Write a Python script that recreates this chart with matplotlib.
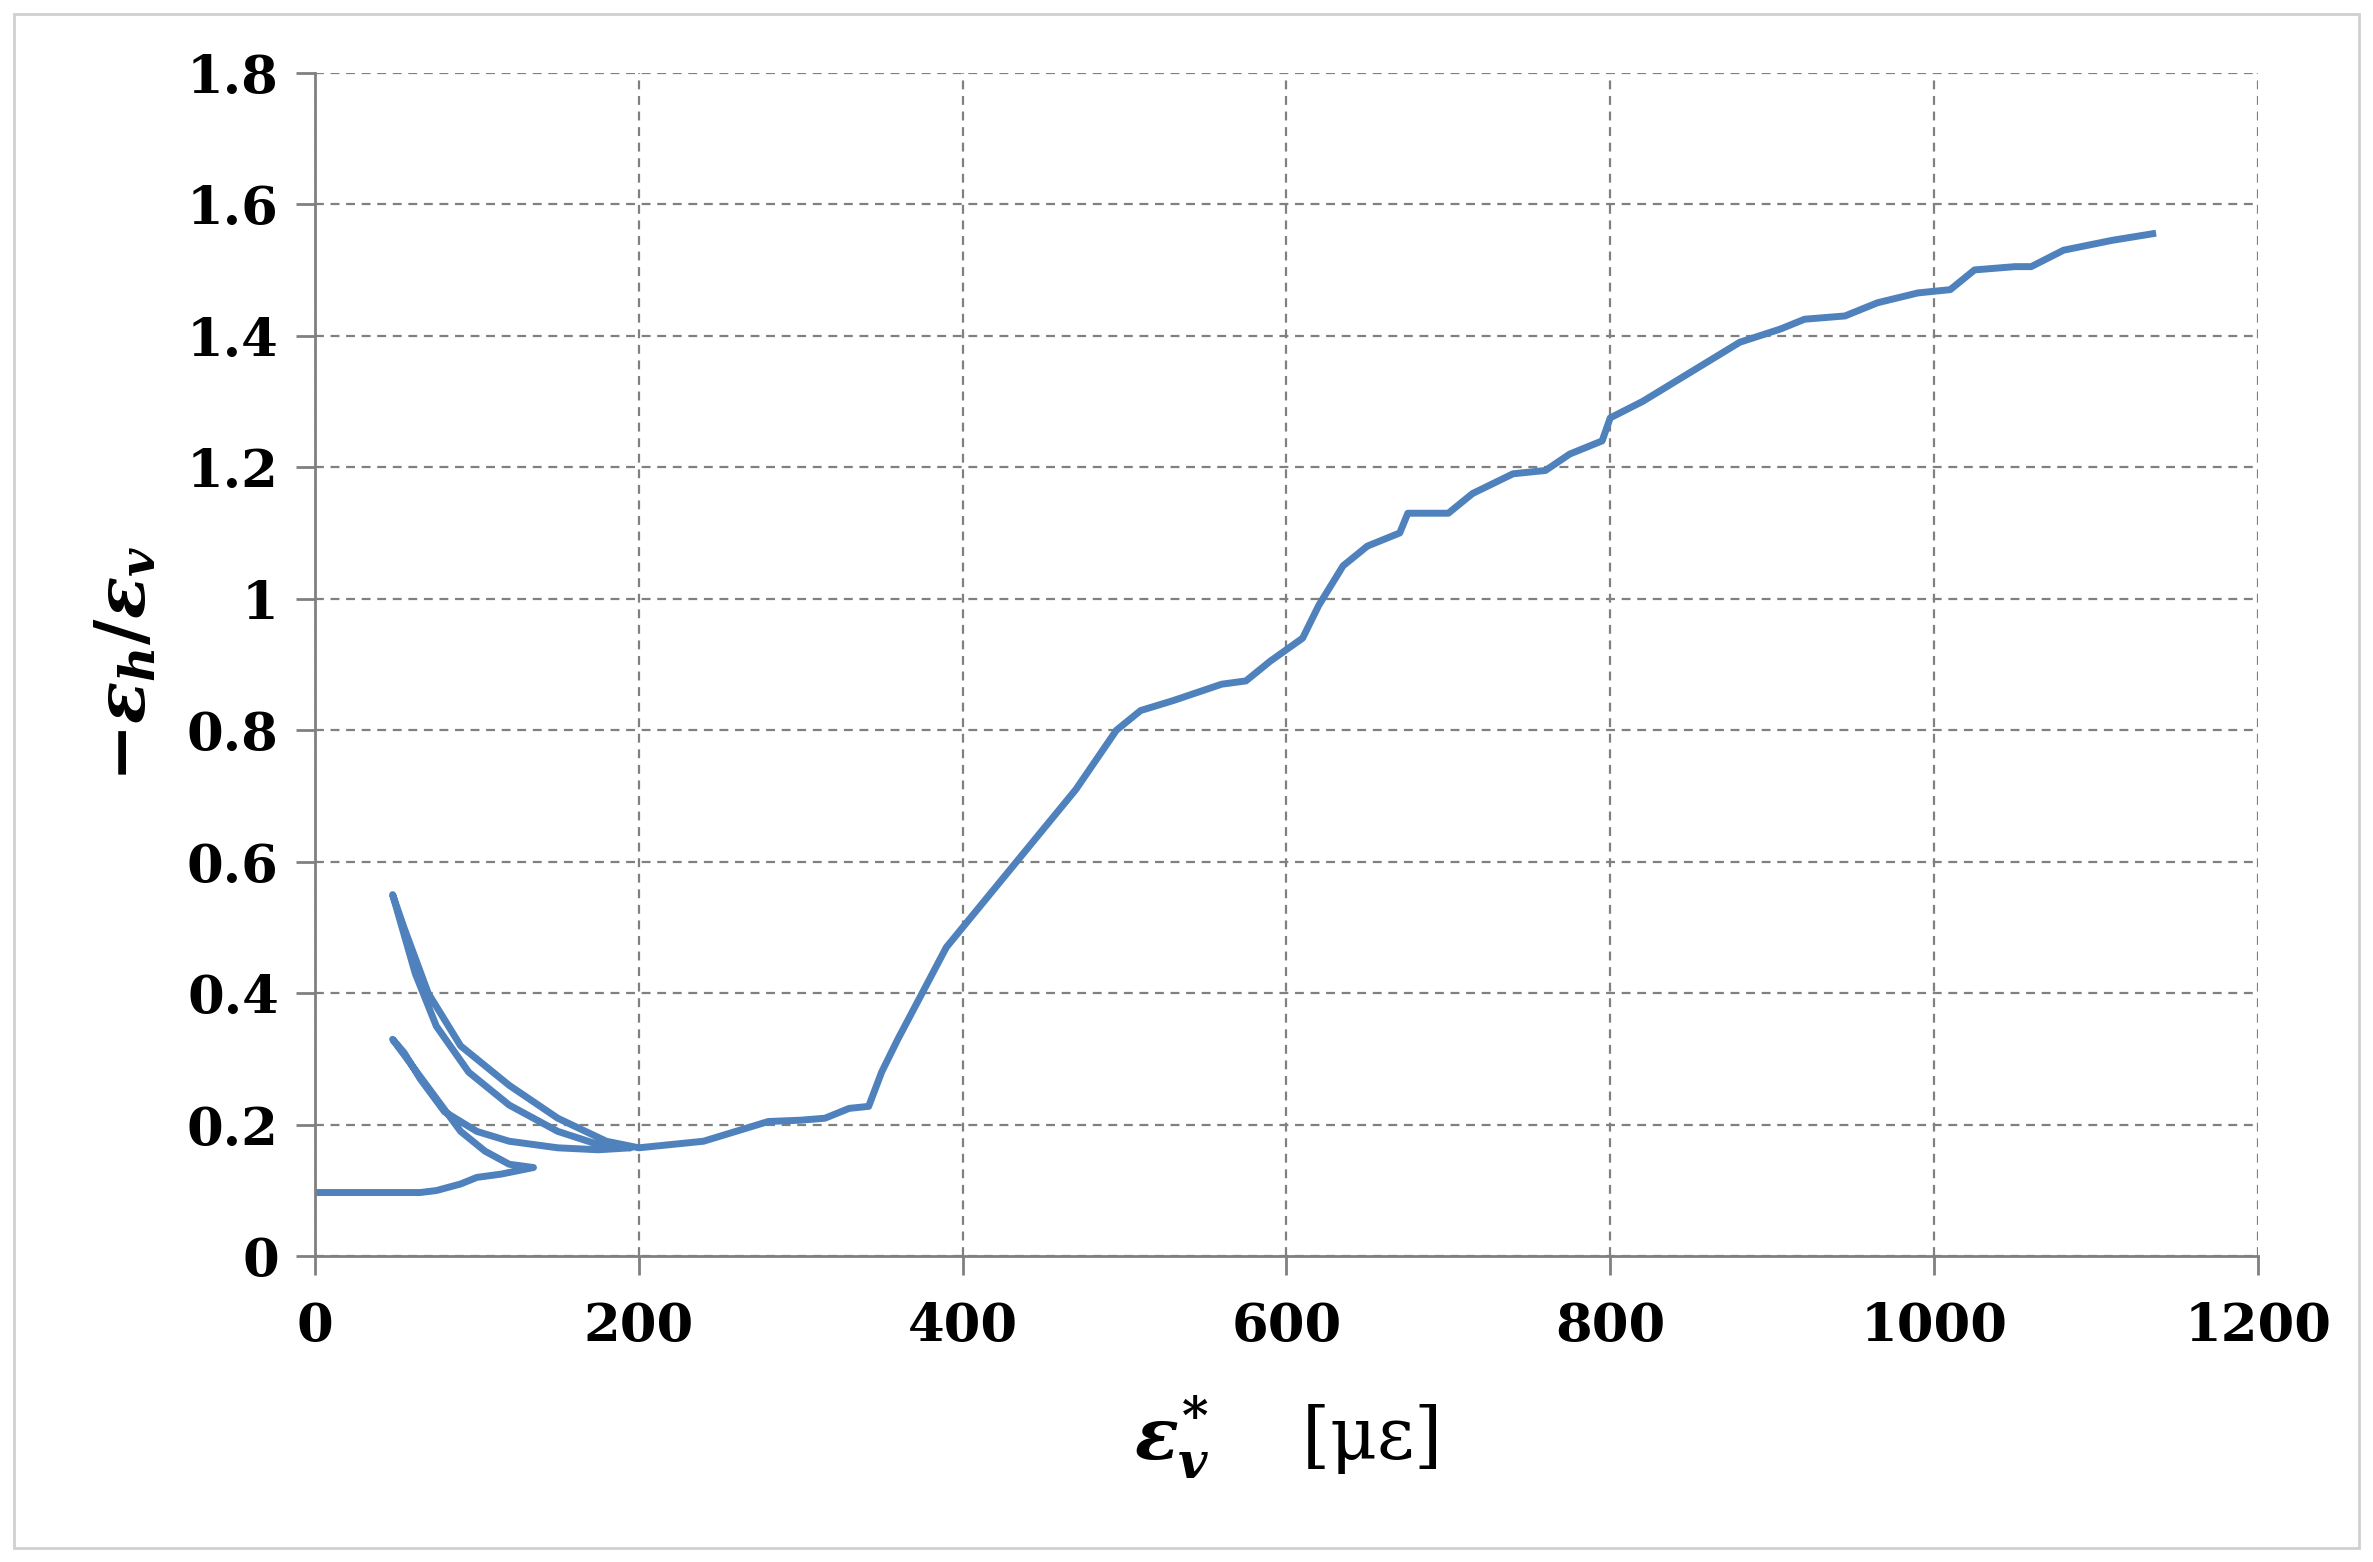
import matplotlib
matplotlib.use("Agg")
import matplotlib.pyplot as plt
from matplotlib.patches import Rectangle

plt.rcParams['font.family'] = ['DejaVu Serif']
plt.rcParams['font.weight'] = 'bold'
plt.rcParams['mathtext.fontset'] = 'custom'
plt.rcParams['mathtext.it'] = 'DejaVu Serif:italic:bold'
plt.rcParams['mathtext.rm'] = 'DejaVu Serif:bold'
plt.rcParams['mathtext.bf'] = 'DejaVu Serif:bold'

x_vals = [0, 65, 75, 90, 100, 115, 125, 135,
          120, 105, 90, 75, 60, 48,
          55, 65, 80, 100, 120, 150, 175, 195,
          175, 150, 120, 95, 75, 62, 48,
          55, 70, 90, 120, 150, 180, 200,
          220, 240, 260, 280, 300, 315, 330, 342, 350, 360, 390, 430, 470, 495,
          510, 530, 560, 575, 590, 610, 620, 635, 650, 670, 675, 700, 715, 740,
          760, 775, 795, 800, 820, 840, 860, 880, 905, 920, 945, 965, 990, 1010,
          1025, 1050, 1060, 1080, 1110, 1135]
y_vals = [0.097, 0.097, 0.10, 0.11, 0.12, 0.125, 0.13, 0.135,
          0.14, 0.16, 0.19, 0.24, 0.29, 0.33,
          0.31, 0.27, 0.22, 0.19, 0.175, 0.165, 0.162, 0.165,
          0.17, 0.19, 0.23, 0.28, 0.35, 0.43, 0.55,
          0.50, 0.40, 0.32, 0.26, 0.21, 0.175, 0.165,
          0.17, 0.175, 0.19, 0.205, 0.207, 0.21, 0.225, 0.228, 0.28, 0.33, 0.47, 0.59, 0.71, 0.80,
          0.83, 0.845, 0.87, 0.875, 0.905, 0.94, 0.99, 1.05, 1.08, 1.10, 1.13, 1.13, 1.16, 1.19,
          1.195, 1.22, 1.24, 1.275, 1.30, 1.33, 1.36, 1.39, 1.41, 1.425, 1.43, 1.45, 1.465, 1.47,
          1.50, 1.505, 1.505, 1.53, 1.545, 1.555]
x_ticks = [0, 200, 400, 600, 800, 1000, 1200]
y_ticks = [0, 0.2, 0.4, 0.6, 0.8, 1.0, 1.2, 1.4, 1.6, 1.8]
y_labels = ['0', '0.2', '0.4', '0.6', '0.8', '1', '1.2', '1.4', '1.6', '1.8']

fig = plt.figure(figsize=(23.73, 15.62), dpi=100)
fig.patches.append(Rectangle((0.006, 0.009), 0.988, 0.982, transform=fig.transFigure,
                             fill=False, edgecolor='#d0d0d0', linewidth=2))
ax = fig.add_axes([0.1327, 0.1957, 0.8188, 0.7578])
ax.plot(x_vals, y_vals, color='#4f81bd', linewidth=5, solid_joinstyle='round')
ax.set_xlim(0, 1200)
ax.set_ylim(0, 1.8)
ax.set_xticks(x_ticks)
ax.set_yticks(y_ticks)
ax.set_yticklabels(y_labels)
ax.grid(True, linestyle=(0, (4, 3)), color='#808080', linewidth=1.6)
for s in ['top', 'right']:
    ax.spines[s].set_visible(False)
for s in ['left', 'bottom']:
    ax.spines[s].set_color('#808080')
    ax.spines[s].set_linewidth(2)
ax.tick_params(axis='both', labelsize=38, color='#808080', width=2, length=14, direction='out')
ax.tick_params(axis='x', pad=18)
ax.tick_params(axis='y', pad=12)
ax.set_xlabel(r'$\varepsilon^{*}_{v}$    [με]', fontsize=52, labelpad=30)
ax.set_ylabel(r'$-\varepsilon_{h}/\varepsilon_{v}$', fontsize=50, labelpad=20)
fig.savefig('out.png', dpi=100)
